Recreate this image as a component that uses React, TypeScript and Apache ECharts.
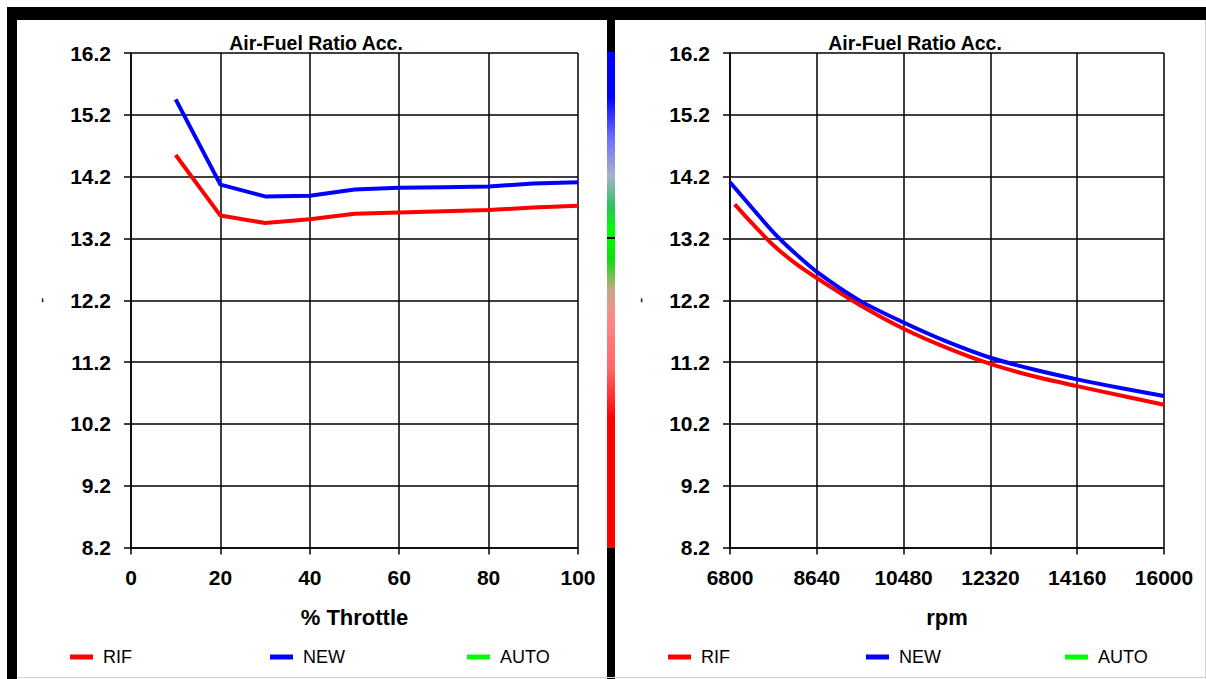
import React, { useEffect, useRef } from "react";
import * as echarts from "echarts";

const Y_MIN = 8.2;
const Y_MAX = 16.2;
const Y_STEP = 1;

const THROTTLE = [10, 20, 30, 40, 50, 60, 70, 80, 90, 100];
const THROTTLE_RIF = [14.55, 13.57, 13.45, 13.51, 13.6, 13.62, 13.64, 13.66, 13.7, 13.73];
const THROTTLE_NEW = [15.45, 14.07, 13.88, 13.89, 13.99, 14.02, 14.03, 14.04, 14.09, 14.11];

const RPM_MIN = 6800;
const RPM_MAX = 16000;
const RPM_STEP = 1840;
const RPM_NEW_X = [6800, 7260, 7720, 8180, 8640, 9560, 10480, 11400, 12320, 13240, 14160, 15080, 16000];
const RPM_NEW = [14.11, 13.7, 13.3, 12.96, 12.66, 12.19, 11.84, 11.53, 11.27, 11.08, 10.92, 10.78, 10.65];
const RPM_RIF_X = [6900, 7260, 7720, 8180, 8640, 9560, 10480, 11400, 12320, 13240, 14160, 15080, 16000];
const RPM_RIF = [13.75, 13.45, 13.09, 12.8, 12.56, 12.12, 11.74, 11.43, 11.17, 10.97, 10.81, 10.66, 10.51];

const LEGEND_NAMES = ["RIF", "NEW", "AUTO"];
const COLORS: Record<string, string> = { RIF: "#ff0000", NEW: "#0000ff", AUTO: "#00ff00" };
const TITLE = "Air-Fuel Ratio Acc.";

const FONT = "'Liberation Sans', Arial, sans-serif";

export default function App() {
  const ref = useRef<HTMLDivElement>(null);

  useEffect(() => {
    document.body.style.margin = "0";
    const chart = echarts.init(ref.current!, null, { renderer: "svg" });

    const yAxisCommon = (gridIndex: number) => ({
      type: "value",
      gridIndex,
      min: 0,
      max: Y_MAX - Y_MIN,
      interval: Y_STEP,
      name: "-",
      nameLocation: "middle",
      nameGap: 82,
      nameRotate: 90,
      nameTextStyle: { fontSize: 16, color: "#000", fontFamily: FONT },
      axisLine: { show: true, lineStyle: { color: "#000", width: 1.5 } },
      axisTick: { show: true, length: 7, lineStyle: { color: "#000", width: 1.5 } },
      axisLabel: {
        color: "#000",
        fontSize: 21,
        fontWeight: "bold",
        fontFamily: FONT,
        margin: 20,
        formatter: (v: number) => (v + Y_MIN).toFixed(1),
      },
      splitLine: { show: true, lineStyle: { color: "#000", width: 1.5 } },
    });

    const xAxisCommon = (gridIndex: number, min: number, max: number, interval: number, name: string, offset: number) => ({
      type: "value",
      gridIndex,
      min,
      max,
      interval,
      name,
      nameLocation: "middle",
      nameGap: 59,
      nameTextStyle: { fontSize: 22, fontWeight: "bold", color: "#000", fontFamily: FONT },
      axisLine: { show: true, lineStyle: { color: "#000", width: 1.5 } },
      axisTick: { show: true, length: 7, lineStyle: { color: "#000", width: 1.5 } },
      axisLabel: {
        color: "#000",
        fontSize: 21,
        fontWeight: "bold",
        fontFamily: FONT,
        margin: 19,
        formatter: (v: number) => String(Math.round(v + offset)),
      },
      splitLine: { show: true, lineStyle: { color: "#000", width: 1.5 } },
    });

    const pairs = (xs: number[], ys: number[], xOff: number) =>
      xs.map((x, i) => [x - xOff, ys[i] - Y_MIN]);

    const lineSeries = (name: string, idx: number, data: number[][], smooth: number | boolean) => ({
      type: "line",
      name,
      xAxisIndex: idx,
      yAxisIndex: idx,
      data,
      showSymbol: false,
      symbol: "none",
      smooth,
      color: COLORS[name],
      lineStyle: { color: COLORS[name], width: 4 },
    });

    const legendLefts = [
      [70, 270, 467],
      [668, 866, 1065],
    ];
    const legends: any[] = [];
    legendLefts.forEach((row) => {
      row.forEach((l, i) => {
        legends.push({
          data: [LEGEND_NAMES[i]],
          left: l,
          top: 648,
          padding: 0,
          icon: "rect",
          itemWidth: 23,
          itemHeight: 5,
          itemGap: 0,
          selectedMode: false,
          textStyle: { fontSize: 18, color: "#000", fontFamily: FONT, padding: [0, 0, 0, 5] },
        });
      });
    });

    chart.setOption({
      animation: false,
      backgroundColor: "#ffffff",
      title: [
        {
          text: TITLE,
          left: 311,
          top: 28,
          textAlign: "center",
          textStyle: { fontSize: 19.5, fontWeight: "bold", color: "#000", fontFamily: FONT },
        },
        {
          text: TITLE,
          left: 910,
          top: 28,
          textAlign: "center",
          textStyle: { fontSize: 19.5, fontWeight: "bold", color: "#000", fontFamily: FONT },
        },
      ],
      legend: legends,
      grid: [
        { left: 131, top: 53, width: 447, height: 494.5, containLabel: false },
        { left: 730, top: 53, width: 434, height: 494.5, containLabel: false },
      ],
      xAxis: [
        xAxisCommon(0, 0, 100, 20, "% Throttle", 0),
        xAxisCommon(1, 0, RPM_MAX - RPM_MIN, RPM_STEP, "rpm", RPM_MIN),
      ],
      yAxis: [yAxisCommon(0), yAxisCommon(1)],
      series: [
        lineSeries("RIF", 0, pairs(THROTTLE, THROTTLE_RIF, 0), false),
        lineSeries("NEW", 0, pairs(THROTTLE, THROTTLE_NEW, 0), false),
        lineSeries("AUTO", 0, [], false),
        lineSeries("RIF", 1, pairs(RPM_RIF_X, RPM_RIF, RPM_MIN), 0.3),
        lineSeries("NEW", 1, pairs(RPM_NEW_X, RPM_NEW, RPM_MIN), 0.3),
        lineSeries("AUTO", 1, [], false),
      ],
      graphic: [
        { type: "rect", shape: { x: 7, y: 7, width: 1199, height: 13 }, style: { fill: "#000" }, silent: true },
        { type: "rect", shape: { x: 7, y: 7, width: 10, height: 672 }, style: { fill: "#000" }, silent: true },
        { type: "rect", shape: { x: 607, y: 7, width: 8, height: 672 }, style: { fill: "#000" }, silent: true },
        {
          type: "rect",
          shape: { x: 607, y: 52, width: 8, height: 496 },
          style: {
            fill: new echarts.graphic.LinearGradient(0, 0, 0, 1, [
              { offset: 0, color: "#0000ff" },
              { offset: 0.09, color: "#0000ff" },
              { offset: 0.17, color: "#6a6aff" },
              { offset: 0.25, color: "#a8b4c8" },
              { offset: 0.31, color: "#30c060" },
              { offset: 0.36, color: "#00ff00" },
              { offset: 0.42, color: "#10dd10" },
              { offset: 0.48, color: "#c8a888" },
              { offset: 0.54, color: "#ff8888" },
              { offset: 0.64, color: "#ff6666" },
              { offset: 0.74, color: "#ff0000" },
              { offset: 1, color: "#ff0000" },
            ]),
          },
          silent: true,
        },
        { type: "rect", shape: { x: 607, y: 237, width: 8, height: 2 }, style: { fill: "#000" }, silent: true },
        { type: "line", shape: { x1: 17, y1: 677.5, x2: 1206, y2: 677.5 }, style: { stroke: "#d0d0d0", lineWidth: 1 }, silent: true },
        { type: "line", shape: { x1: 1205.5, y1: 20, x2: 1205.5, y2: 679 }, style: { stroke: "#d0d0d0", lineWidth: 1 }, silent: true },
      ],
    });

    return () => chart.dispose();
  }, []);

  return (
    <div
      ref={ref}
      style={{ position: "absolute", left: 0, top: 0, width: 1206, height: 679 }}
    />
  );
}
